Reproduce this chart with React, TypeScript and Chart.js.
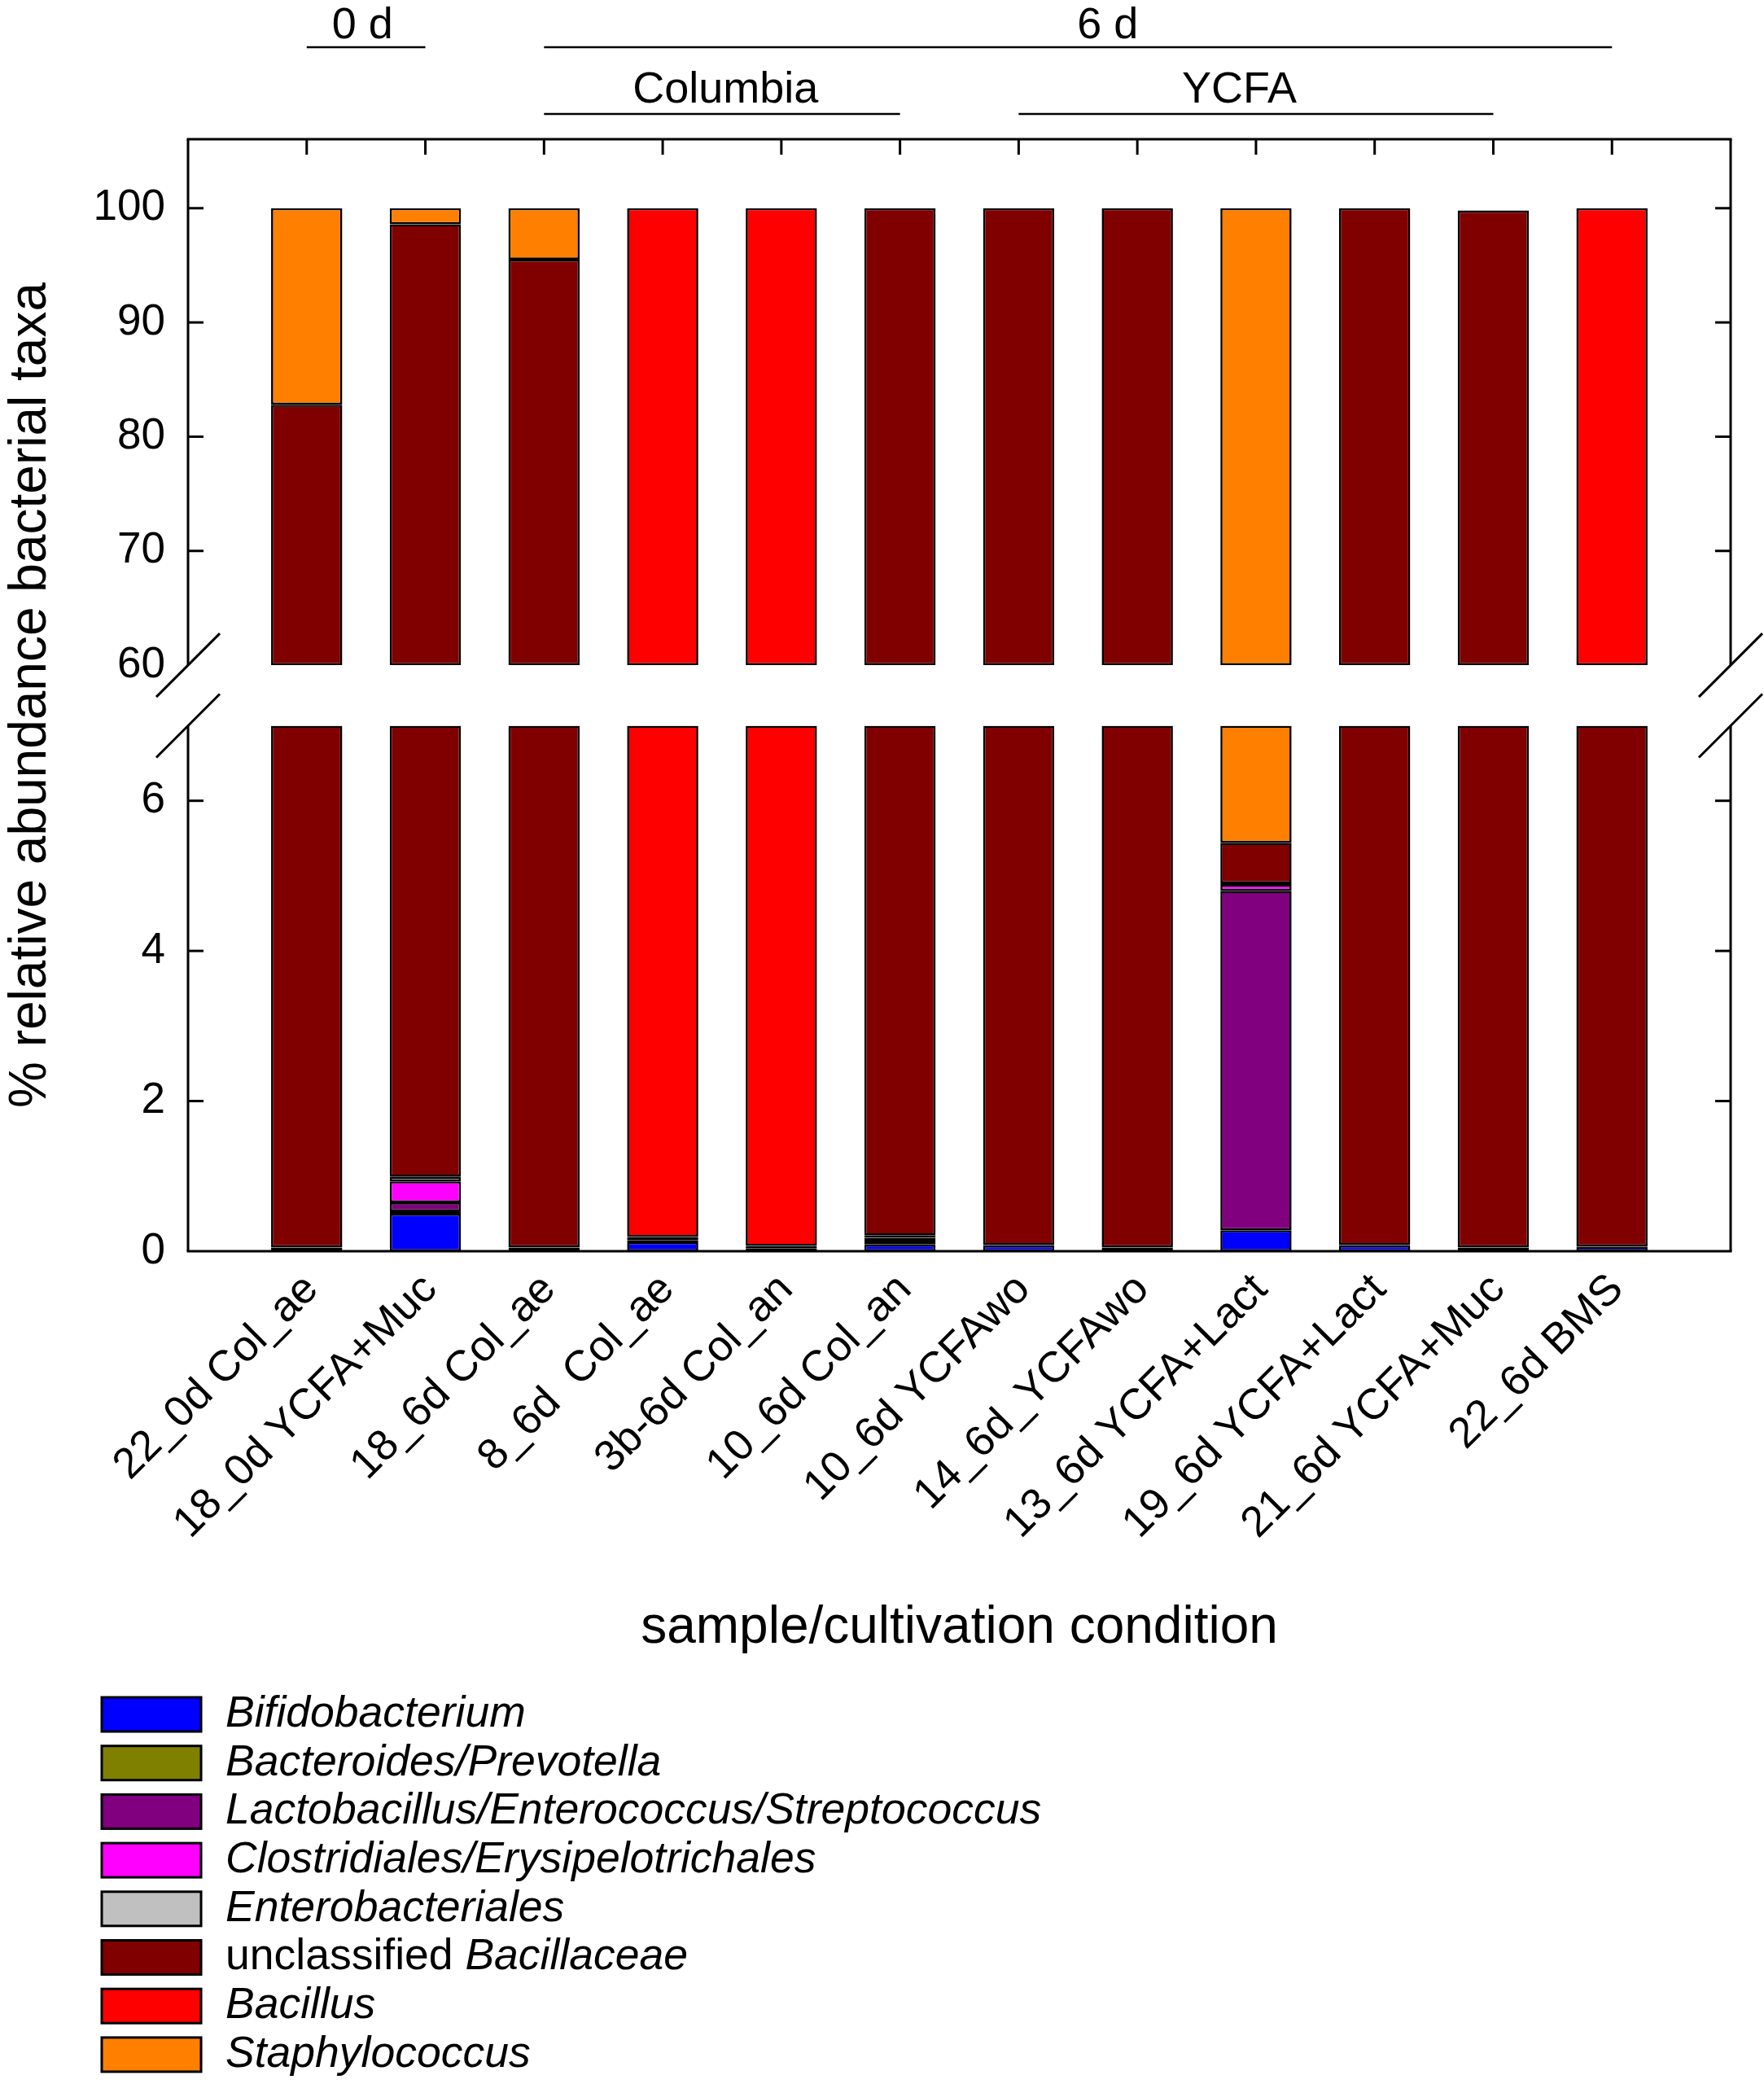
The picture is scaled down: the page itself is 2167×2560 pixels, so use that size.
import { useEffect, useRef } from "react";
import { Chart, registerables } from "chart.js";

Chart.register(...registerables);

const FONT = "'Liberation Sans', Arial, Helvetica, sans-serif";

const categories = [
  "22_0d Col_ae",
  "18_0d YCFA+Muc",
  "18_6d Col_ae",
  "8_6d  Col_ae",
  "3b-6d Col_an",
  "10_6d Col_an",
  "10_6d YCFAwo",
  "14_6d_YCFAwo",
  "13_6d YCFA+Lact",
  "19_6d YCFA+Lact",
  "21_6d YCFA+Muc",
  "22_6d BMS",
];

const taxa = [
  "Bifidobacterium",
  "Bacteroides/Prevotella",
  "Lactobacillus/Enterococcus/Streptococcus",
  "Clostridiales/Erysipelotrichales",
  "Enterobacteriales",
  "unclassified Bacillaceae",
  "Bacillus",
  "Staphylococcus",
];
const taxaColors = ["#0000ff", "#808000", "#800080", "#ff00ff", "#c0c0c0", "#800000", "#ff0000", "#ff8000"];

// % relative abundance per sample
const bifidobacterium = [0.05, 0.5, 0.05, 0.12, 0.04, 0.09, 0.08, 0.05, 0.28, 0.08, 0.05, 0.06];
const bacteroides = [0, 0.03, 0, 0.03, 0, 0, 0, 0, 0, 0, 0, 0];
const lactobacillus = [0, 0.12, 0, 0, 0, 0.05, 0, 0, 4.52, 0, 0, 0];
const clostridiales = [0, 0.28, 0, 0, 0, 0.04, 0, 0, 0.08, 0, 0, 0];
const enterobacteriales = [0, 0.06, 0, 0, 0, 0.03, 0, 0, 0.02, 0, 0, 0];
const unclassifiedBacillaceae = [82.75, 97.61, 95.45, 0.04, 0.03, 99.79, 99.92, 99.95, 0.54, 99.92, 99.75, 30.0];
const bacillus = [0, 0, 0, 99.81, 99.93, 0, 0, 0, 0, 0, 0, 69.94];
const staphylococcus = [17.2, 1.4, 4.5, 0, 0, 0, 0, 0, 94.56, 0, 0, 0];

const series = [
  bifidobacterium,
  bacteroides,
  lactobacillus,
  clostridiales,
  enterobacteriales,
  unclassifiedBacillaceae,
  bacillus,
  staphylococcus,
];

// broken axis: upper panel shows 60..100, lower panel 0..7
const upperTicks = [60, 70, 80, 90, 100];
const lowerTicks = [0, 2, 4, 6];
const UPPER_FROM = 60;
const LOWER_TO = 7;

// group annotations above the plot (first and last sample, 1-based; label anchor)
const groupLabels = ["0 d", "6 d", "Columbia", "YCFA"];
const groupFirst = [1, 3, 3, 7];
const groupLast = [2, 12, 6, 11];
const groupLabelAt = [1.47, 7.75, 4.53, 8.86];
const groupRow = [0, 0, 1, 1];

function segments(values: number[], panel: "top" | "bottom") {
  const out: { x: number; y: [number, number] }[] = [];
  values.forEach((v, i) => {
    if (!v) return;
    let start = 0;
    for (const s of series) {
      if (s === values) break;
      start += s[i];
    }
    const end = start + v;
    if (panel === "top" && end > UPPER_FROM) {
      out.push({ x: i + 1, y: [Math.max(start, UPPER_FROM), end] });
    }
    if (panel === "bottom" && start < LOWER_TO) {
      out.push({ x: i + 1, y: [start, Math.min(end, LOWER_TO)] });
    }
  });
  return out;
}

const decor = {
  id: "decor",
  afterDraw(chart: any) {
    const { ctx, chartArea: a, scales } = chart;
    const xs = scales.x;
    const yt = scales.yTop;
    const yb = scales.yBot;
    const brTop = yt.getPixelForValue(UPPER_FROM);
    const brBot = yb.getPixelForValue(LOWER_TO);
    const line = (x1: number, y1: number, x2: number, y2: number) => {
      ctx.beginPath();
      ctx.moveTo(x1, y1);
      ctx.lineTo(x2, y2);
      ctx.stroke();
    };

    ctx.save();
    ctx.strokeStyle = "#000";
    ctx.fillStyle = "#000";
    ctx.lineWidth = 3;

    // frame with breaks
    line(a.left - 1.5, a.top, a.right + 1.5, a.top);
    line(a.left - 1.5, a.bottom, a.right + 1.5, a.bottom);
    for (const ex of [a.left, a.right]) {
      line(ex, a.top, ex, brTop);
      line(ex, brBot, ex, a.bottom);
      line(ex - 39, brTop + 39, ex + 39, brTop - 39);
      line(ex - 39, brBot + 39, ex + 39, brBot - 39);
    }
    // inward tick marks
    for (const s of [yt, yb]) {
      for (const t of s.ticks) {
        if (t.value === UPPER_FROM || t.value === 0) continue;
        const py = s.getPixelForValue(t.value);
        line(a.left, py, a.left + 19, py);
        line(a.right, py, a.right - 19, py);
      }
    }
    for (const t of xs.ticks) {
      const px = xs.getPixelForValue(t.value);
      line(px, a.top, px, a.top + 19);
    }

    // group annotations
    ctx.lineWidth = 2.5;
    ctx.textAlign = "center";
    ctx.textBaseline = "alphabetic";
    ctx.font = `54px ${FONT}`;
    groupLabels.forEach((lab, i) => {
      const x1 = xs.getPixelForValue(groupFirst[i]);
      const x2 = xs.getPixelForValue(groupLast[i]);
      const ly = groupRow[i] === 0 ? 58 : 140;
      line(x1, ly, x2, ly);
      ctx.fillText(lab, xs.getPixelForValue(groupLabelAt[i]), groupRow[i] === 0 ? 47 : 126);
    });

    // axis titles
    ctx.font = `64px ${FONT}`;
    ctx.save();
    ctx.translate(56, (a.top + a.bottom) / 2);
    ctx.rotate(-Math.PI / 2);
    ctx.fillText("% relative abundance bacterial taxa", 0, 0);
    ctx.restore();
    ctx.fillText("sample/cultivation condition", (a.left + a.right) / 2, 2018);

    // legend
    ctx.textAlign = "left";
    ctx.textBaseline = "middle";
    taxa.forEach((name, i) => {
      const cy = 2106 + i * 59.7;
      ctx.fillStyle = taxaColors[i];
      ctx.fillRect(125, cy - 21, 122, 42);
      ctx.lineWidth = 3;
      ctx.strokeRect(125, cy - 21, 122, 42);
      ctx.fillStyle = "#000";
      let tx = 277;
      let rest = name;
      if (name.startsWith("unclassified ")) {
        ctx.font = `53.5px ${FONT}`;
        ctx.fillText("unclassified ", tx, cy);
        tx += ctx.measureText("unclassified ").width;
        rest = name.slice("unclassified ".length);
      }
      ctx.font = `italic 53.5px ${FONT}`;
      ctx.fillText(rest, tx, cy);
    });
    ctx.restore();
  },
};

export default function App() {
  const canvasRef = useRef<HTMLCanvasElement | null>(null);
  const chartRef = useRef<Chart | null>(null);

  useEffect(() => {
    const canvas = canvasRef.current;
    if (!canvas) return;
    chartRef.current?.destroy();

    const datasets: any[] = [];
    (["top", "bottom"] as const).forEach((panel) => {
      series.forEach((vals, k) => {
        datasets.push({
          label: taxa[k],
          data: segments(vals, panel),
          yAxisID: panel === "top" ? "yTop" : "yBot",
          backgroundColor: taxaColors[k],
          borderColor: "#000",
          borderWidth: 2.6,
          borderSkipped: false,
          grouped: false,
          barPercentage: 0.6,
          categoryPercentage: 1,
        });
      });
    });

    chartRef.current = new Chart(canvas, {
      type: "bar",
      data: { datasets },
      options: {
        animation: false,
        responsive: true,
        maintainAspectRatio: false,
        devicePixelRatio: 1,
        color: "#000",
        layout: { padding: { top: 171, right: 41, left: 0, bottom: 0 } },
        plugins: { legend: { display: false }, tooltip: { enabled: false } },
        scales: {
          x: {
            type: "linear",
            offset: false,
            min: 0,
            max: categories.length + 1,
            grid: { display: false, drawTicks: false },
            border: { display: false },
            afterBuildTicks: (s: any) => {
              s.ticks = categories.map((_, i) => ({ value: i + 1 }));
            },
            afterFit: (s: any) => {
              s.height = 1023;
            },
            ticks: {
              autoSkip: false,
              minRotation: 45,
              maxRotation: 45,
              padding: 16,
              labelOffset: 6,
              color: "#000",
              font: { family: FONT, size: 53 },
              callback: (v: any) => categories[Number(v) - 1] ?? "",
            },
          },
          yBot: {
            type: "linear",
            position: "left",
            stack: "panels",
            stackWeight: 645.4,
            min: 0,
            max: LOWER_TO,
            grid: { display: false, drawTicks: false },
            border: { display: false },
            afterBuildTicks: (s: any) => {
              s.ticks = lowerTicks.map((v) => ({ value: v }));
            },
            afterFit: (s: any) => {
              s.width = 231;
            },
            ticks: { padding: 28, color: "#000", font: { family: FONT, size: 53 } },
          },
          yTop: {
            type: "linear",
            position: "left",
            stack: "panels",
            stackWeight: 720.3,
            min: 54.7,
            max: 106.04,
            grid: { display: false, drawTicks: false },
            border: { display: false },
            afterBuildTicks: (s: any) => {
              s.ticks = upperTicks.map((v) => ({ value: v }));
            },
            afterFit: (s: any) => {
              s.width = 231;
            },
            ticks: { padding: 28, color: "#000", font: { family: FONT, size: 53 } },
          },
        },
      } as any,
      plugins: [decor],
    });

    return () => {
      chartRef.current?.destroy();
      chartRef.current = null;
    };
  }, []);

  return (
    <div style={{ position: "absolute", left: 0, top: 0, width: 2167, height: 2560, background: "#fff" }}>
      <canvas ref={canvasRef}></canvas>
    </div>
  );
}
